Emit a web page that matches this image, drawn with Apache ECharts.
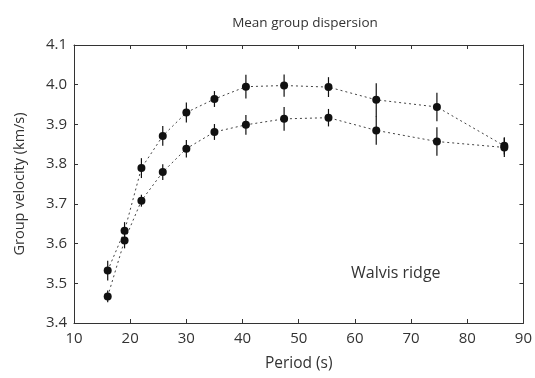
<!DOCTYPE html>
<html>
<head>
<meta charset="utf-8">
<script src="https://cdn.jsdelivr.net/npm/echarts@6/dist/echarts.min.js"></script>
<style>
	html, body { margin: 0; padding: 0; background: #fff; }
	#chart { width: 535px; height: 378px; }
</style>
</head>
<body>
<div id="chart"></div>
<script>
const periods = [16, 19, 22, 25.8, 30, 35, 40.6, 47.4, 55.3, 63.8, 74.6, 86.6]
const upperVel = [3.532, 3.632, 3.79, 3.871, 3.93, 3.964, 3.995, 3.998, 3.994, 3.962, 3.944, 3.846]
const upperErr = [0.025, 0.022, 0.025, 0.025, 0.025, 0.02, 0.03, 0.028, 0.025, 0.042, 0.036, 0.022]
const lowerVel = [3.467, 3.608, 3.708, 3.78, 3.839, 3.881, 3.899, 3.914, 3.917, 3.885, 3.857, 3.842]
const lowerErr = [0.015, 0.02, 0.015, 0.02, 0.022, 0.02, 0.025, 0.03, 0.022, 0.036, 0.036, 0.024]
const xTicks = [10, 20, 30, 40, 50, 60, 70, 80, 90]
const yTicks = [3.4, 3.5, 3.6, 3.7, 3.8, 3.9, 4.0, 4.1]

const chart = echarts.init(document.getElementById('chart'))

const txt = '#333'
const font = 'Open Sans'

const pairs = (vals) => periods.map((p, i) => [p, vals[i]])
const bars = (vals, errs) => periods.map((p, i) => [p, vals[i] - errs[i], vals[i] + errs[i]])

const errorSeries = (data) => ({
	type: 'custom',
	data: data,
	z: 3,
	renderItem: function (params, api) {
		const lo = api.coord([api.value(0), api.value(1)])
		const hi = api.coord([api.value(0), api.value(2)])
		return {
			type: 'line',
			shape: { x1: lo[0], y1: lo[1], x2: hi[0], y2: hi[1] },
			style: { stroke: '#111', lineWidth: 1.2 },
		}
	},
})

const lineSeries = (data) => ({
	type: 'line',
	data: data,
	symbol: 'circle',
	symbolSize: 8,
	z: 4,
	itemStyle: { color: '#111' },
	lineStyle: { color: '#444', width: 1, type: [2, 3] },
})

const axisBase = {
	type: 'value',
	axisLine: { show: true, lineStyle: { color: '#333', width: 1 } },
	axisTick: { show: true, inside: true, length: 4, lineStyle: { color: '#333' } },
	splitLine: { show: false },
}

chart.setOption({
	animation: false,
	backgroundColor: '#fff',
	title: {
		text: 'Mean group dispersion',
		left: 300,
		top: 11,
		textAlign: 'center',
		textStyle: { color: txt, fontSize: 13.5, fontWeight: 'normal', fontFamily: font },
	},
	grid: { left: 74, right: 9, top: 45, bottom: 55 },
	xAxis: [
		{
			...axisBase,
			min: xTicks[0],
			max: xTicks[xTicks.length - 1],
			interval: 10,
			name: 'Period (s)',
			nameLocation: 'middle',
			nameGap: 33,
			nameTextStyle: { color: txt, fontSize: 15.5, fontFamily: font },
			axisLabel: { color: txt, fontSize: 15, fontFamily: font, margin: 8 },
		},
		{
			...axisBase,
			position: 'top',
			min: xTicks[0],
			max: xTicks[xTicks.length - 1],
			interval: 10,
			axisLabel: { show: false },
		},
	],
	yAxis: [
		{
			...axisBase,
			min: yTicks[0],
			max: yTicks[yTicks.length - 1],
			interval: 0.1,
			name: 'Group velocity (km/s)',
			nameLocation: 'middle',
			nameGap: 47,
			nameTextStyle: { color: txt, fontSize: 14.5, fontFamily: font },
			axisLabel: {
				color: txt,
				fontSize: 15,
				fontFamily: font,
				margin: 7,
				formatter: (v) => v.toFixed(1),
			},
		},
		{
			...axisBase,
			position: 'right',
			min: yTicks[0],
			max: yTicks[yTicks.length - 1],
			interval: 0.1,
			axisLabel: { show: false },
		},
	],
	graphic: [
		{
			type: 'text',
			left: 351,
			top: 265,
			style: { text: 'Walvis ridge', fill: txt, fontSize: 16, fontFamily: font },
		},
	],
	series: [
		lineSeries(pairs(upperVel)),
		lineSeries(pairs(lowerVel)),
		errorSeries(bars(upperVel, upperErr)),
		errorSeries(bars(lowerVel, lowerErr)),
	],
})
</script>
</body>
</html>
